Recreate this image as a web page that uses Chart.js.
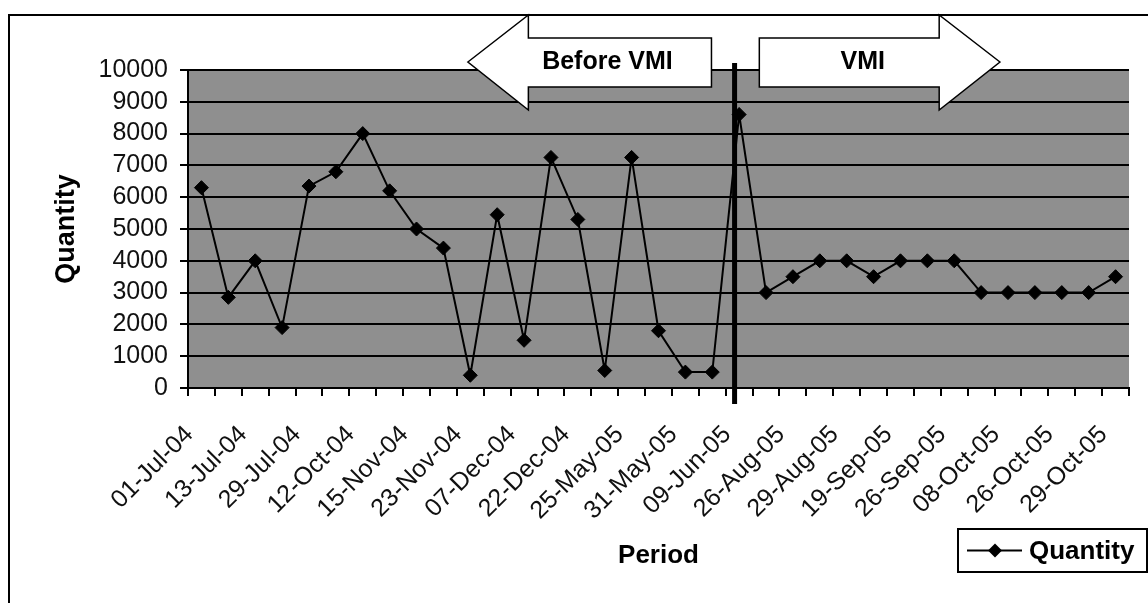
<!DOCTYPE html>
<html>
<head>
<meta charset="utf-8">
<script src="https://cdn.jsdelivr.net/npm/chart.js@4/dist/chart.umd.min.js"></script>
<style>
  html, body { margin: 0; padding: 0; background: #fff; }
  #wrap { width: 1148px; height: 603px; }
</style>
</head>
<body>
<div id="wrap"><canvas id="chart" width="1148" height="603"></canvas></div>
<script>
// ── DATA ──────────────────────────────────────────────────
const categories = [
  '01-Jul-04', '', '13-Jul-04', '', '29-Jul-04', '', '12-Oct-04', '',
  '15-Nov-04', '', '23-Nov-04', '', '07-Dec-04', '', '22-Dec-04', '',
  '25-May-05', '', '31-May-05', '', '09-Jun-05', '', '26-Aug-05', '',
  '29-Aug-05', '', '19-Sep-05', '', '26-Sep-05', '', '08-Oct-05', '',
  '26-Oct-05', '', '29-Oct-05'
];
const quantity = [
  6300, 2850, 4000, 1900, 6350, 6800, 8000, 6200, 5000, 4400, 400,
  5450, 1500, 7250, 5300, 550, 7250, 1800, 500, 500, 8600,
  3000, 3500, 4000, 4000, 3500, 4000, 4000, 4000, 3000, 3000, 3000,
  3000, 3000, 3500
];
const yTicks = [0, 1000, 2000, 3000, 4000, 5000, 6000, 7000, 8000, 9000, 10000];
const seriesName = 'Quantity';
const phaseLabels = ['Before VMI', 'VMI'];

// ── ANNOTATIONS (category-index units on x) ──────────────
const SPLIT_AT = 19.83;
const ARROW_BEFORE = { tip: 9.91, neck: 12.16, end: 18.97, text: 15.10 };
const ARROW_VMI    = { start: 20.75, neck: 27.44, tip: 29.70, text: 24.60 };
const ARROW_Y = { headTop: 15, bodyTop: 38, mid: 62, bodyBottom: 87, headBottom: 110 };

const FONT = "'Liberation Sans', Arial, sans-serif";

const decorPlugin = {
  id: 'decor',
  beforeDraw(chart) {
    const { ctx, chartArea: a } = chart;
    ctx.save();
    ctx.fillStyle = '#ffffff';
    ctx.fillRect(0, 0, chart.width, chart.height);
    ctx.fillStyle = '#8f8f8f';
    ctx.fillRect(a.left, a.top, a.right - a.left, a.bottom - a.top);
    // outer frame (left + top visible)
    ctx.strokeStyle = '#000';
    ctx.lineWidth = 2;
    ctx.beginPath();
    ctx.moveTo(9, chart.height);
    ctx.lineTo(9, 15);
    ctx.lineTo(chart.width, 15);
    ctx.stroke();
    ctx.restore();
  },
  afterDatasetsDraw(chart) {
    const { ctx } = chart;
    const xs = chart.scales.x;
    const px = v => xs.getPixelForValue(v);
    const Y = ARROW_Y;
    ctx.save();
    ctx.fillStyle = '#fff';
    ctx.strokeStyle = '#000';
    ctx.lineWidth = 1.5;
    ctx.lineJoin = 'miter';

    // left arrow
    ctx.beginPath();
    ctx.moveTo(px(ARROW_BEFORE.tip), Y.mid);
    ctx.lineTo(px(ARROW_BEFORE.neck), Y.headTop);
    ctx.lineTo(px(ARROW_BEFORE.neck), Y.bodyTop);
    ctx.lineTo(px(ARROW_BEFORE.end), Y.bodyTop);
    ctx.lineTo(px(ARROW_BEFORE.end), Y.bodyBottom);
    ctx.lineTo(px(ARROW_BEFORE.neck), Y.bodyBottom);
    ctx.lineTo(px(ARROW_BEFORE.neck), Y.headBottom);
    ctx.closePath();
    ctx.fill(); ctx.stroke();

    // right arrow
    ctx.beginPath();
    ctx.moveTo(px(ARROW_VMI.tip), Y.mid);
    ctx.lineTo(px(ARROW_VMI.neck), Y.headTop);
    ctx.lineTo(px(ARROW_VMI.neck), Y.bodyTop);
    ctx.lineTo(px(ARROW_VMI.start), Y.bodyTop);
    ctx.lineTo(px(ARROW_VMI.start), Y.bodyBottom);
    ctx.lineTo(px(ARROW_VMI.neck), Y.bodyBottom);
    ctx.lineTo(px(ARROW_VMI.neck), Y.headBottom);
    ctx.closePath();
    ctx.fill(); ctx.stroke();

    ctx.fillStyle = '#000';
    ctx.font = 'bold 25px ' + FONT;
    ctx.textAlign = 'center';
    ctx.textBaseline = 'middle';
    ctx.fillText(phaseLabels[0], px(ARROW_BEFORE.text), Y.mid);
    ctx.fillText(phaseLabels[1], px(ARROW_VMI.text), Y.mid);

    // split line
    ctx.strokeStyle = '#000';
    ctx.lineWidth = 5;
    ctx.beginPath();
    ctx.moveTo(px(SPLIT_AT), 63);
    ctx.lineTo(px(SPLIT_AT), 404);
    ctx.stroke();

    // legend box
    const lx = 958, ly = 529, lw = 189, lh = 43;
    ctx.fillStyle = '#fff';
    ctx.fillRect(lx, ly, lw, lh);
    ctx.lineWidth = 2;
    ctx.strokeRect(lx, ly, lw, lh);
    const cy = ly + lh / 2;
    ctx.lineWidth = 2;
    ctx.beginPath();
    ctx.moveTo(lx + 9, cy);
    ctx.lineTo(lx + 64, cy);
    ctx.stroke();
    ctx.fillStyle = '#000';
    ctx.beginPath();
    ctx.moveTo(lx + 37 - 7, cy);
    ctx.lineTo(lx + 37, cy - 7);
    ctx.lineTo(lx + 37 + 7, cy);
    ctx.lineTo(lx + 37, cy + 7);
    ctx.closePath();
    ctx.fill();
    ctx.font = 'bold 26px ' + FONT;
    ctx.textAlign = 'left';
    ctx.textBaseline = 'middle';
    ctx.fillText(seriesName, lx + 71, cy + 1);
    ctx.restore();
  }
};

new Chart(document.getElementById('chart').getContext('2d'), {
  type: 'line',
  data: {
    labels: categories,
    datasets: [{
      label: seriesName,
      data: quantity,
      borderColor: '#000',
      borderWidth: 2,
      pointStyle: 'rectRot',
      pointRadius: 7,
      pointBackgroundColor: '#000',
      pointBorderColor: '#000',
      pointBorderWidth: 1,
      tension: 0,
      fill: false,
    }]
  },
  options: {
    responsive: false,
    animation: false,
    devicePixelRatio: 1,
    layout: { padding: { left: 0, top: 70, right: 19, bottom: 0 } },
    plugins: {
      legend: { display: false },
      tooltip: { enabled: false },
    },
    scales: {
      x: {
        type: 'category',
        offset: true,
        afterFit: (s) => { s.height = 215; s.paddingLeft = 0; s.paddingRight = 0; },
        grid: {
          display: true,
          offset: true,
          drawOnChartArea: false,
          drawTicks: true,
          tickLength: 8,
          color: '#000',
          lineWidth: 2,
        },
        border: { display: true, color: '#000', width: 2 },
        ticks: {
          autoSkip: false,
          minRotation: 45,
          maxRotation: 45,
          padding: 24,
          labelOffset: -12,
          color: '#111',
          font: { family: FONT, size: 25 },
        },
        title: {
          display: true,
          text: 'Period',
          color: '#000',
          font: { family: FONT, size: 26, weight: 'bold' },
          padding: { top: 0, bottom: 32 },
        }
      },
      y: {
        min: 0,
        max: 10000,
        afterFit: (s) => { s.width = 188; s.paddingTop = 0; s.paddingBottom = 0; },
        afterBuildTicks: (s) => { s.ticks = yTicks.map(v => ({ value: v })); },
        grid: {
          color: '#000',
          lineWidth: 2,
          drawTicks: true,
          tickLength: 8,
        },
        border: { display: true, color: '#000', width: 2 },
        ticks: {
          autoSkip: false,
          padding: 12,
          color: '#111',
          font: { family: FONT, size: 25 },
          callback: (v) => String(v),
        },
        title: {
          display: true,
          text: 'Quantity',
          color: '#000',
          font: { family: FONT, size: 27, weight: 'bold' },
          padding: { top: 50, bottom: 0 },
        }
      }
    }
  },
  plugins: [decorPlugin]
});
</script>
</body>
</html>
